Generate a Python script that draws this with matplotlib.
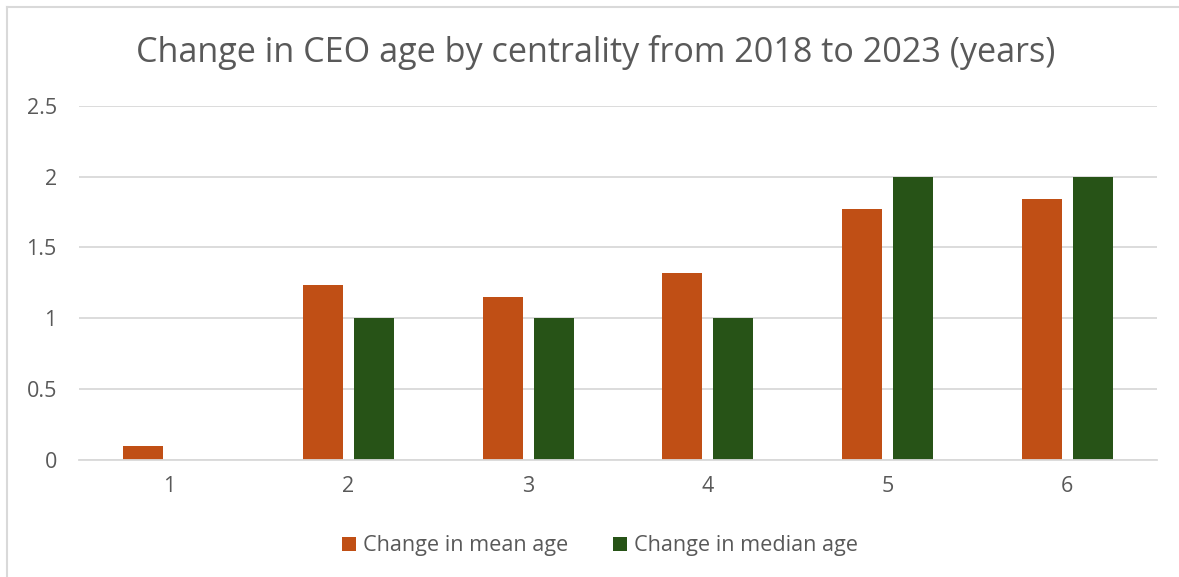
import matplotlib
matplotlib.use("Agg")
import matplotlib.pyplot as plt
from matplotlib.lines import Line2D
import numpy as np

categories = ["1", "2", "3", "4", "5", "6"]
mean_change = [0.10, 1.235, 1.153, 1.317, 1.769, 1.842]
median_change = [0.0, 1.0, 1.0, 1.0, 2.0, 2.0]
series_names = ["Change in mean age", "Change in median age"]
yticks = [0, 0.5, 1, 1.5, 2, 2.5]
ytick_labels = ["0", "0.5", "1", "1.5", "2", "2.5"]

ORANGE = "#C04F15"
GREEN = "#275317"
TEXT = "#595959"
GRID = "#D9D9D9"

plt.rcParams['font.family'] = ['Open Sans', 'DejaVu Sans']

W, H = 1179, 577
fig = plt.figure(figsize=(W / 100, H / 100), dpi=100)
ax = fig.add_axes([79 / W, 1 - 460 / H, (1157 - 79) / W, (460 - 105.7) / H])

x = np.arange(len(categories))
bw = 0.224
off = 0.142
ax.bar(x - off, mean_change, bw, color=ORANGE, label=series_names[0], zorder=3)
ax.bar(x + off, median_change, bw, color=GREEN, label=series_names[1], zorder=3)

ax.set_xlim(-0.5, len(categories) - 0.5)
ax.set_ylim(0, 2.5)
ax.set_yticks(yticks)
ax.set_yticklabels(ytick_labels)
ax.set_xticks(x)
ax.set_xticklabels(categories)
ax.tick_params(axis='y', length=0, pad=16, labelsize=15.5, labelcolor=TEXT)
ax.tick_params(axis='x', length=0, pad=11.5, labelsize=15.5, labelcolor=TEXT)
ax.grid(axis='y', color=GRID, linewidth=1.3, zorder=0)
for s in ["top", "right", "left"]:
    ax.spines[s].set_visible(False)
ax.spines["bottom"].set_color(GRID)
ax.spines["bottom"].set_linewidth(1.3)
ax.spines["bottom"].set_zorder(4)

fig.text(596 / W, 1 - 52 / H, "Change in CEO age by centrality from 2018 to 2023 (years)",
         ha="center", va="center", fontsize=24.6, color=TEXT)

leg = fig.legend(loc="center", bbox_to_anchor=(600 / W, 1 - 546 / H), ncol=2, frameon=False,
                 fontsize=15.6, handlelength=0.65, handleheight=0.65, handletextpad=0.3,
                 columnspacing=2.1, labelcolor=TEXT)

# chart border (top and left visible)
fig.add_artist(Line2D([7 / W, 7 / W], [0, 1 - 7 / H], color="#D9D9D9", linewidth=1.5,
                      transform=fig.transFigure))
fig.add_artist(Line2D([7 / W, 1], [1 - 7 / H, 1 - 7 / H], color="#D9D9D9", linewidth=1.5,
                      transform=fig.transFigure))

fig.savefig("out.png", dpi=100, facecolor="white")
